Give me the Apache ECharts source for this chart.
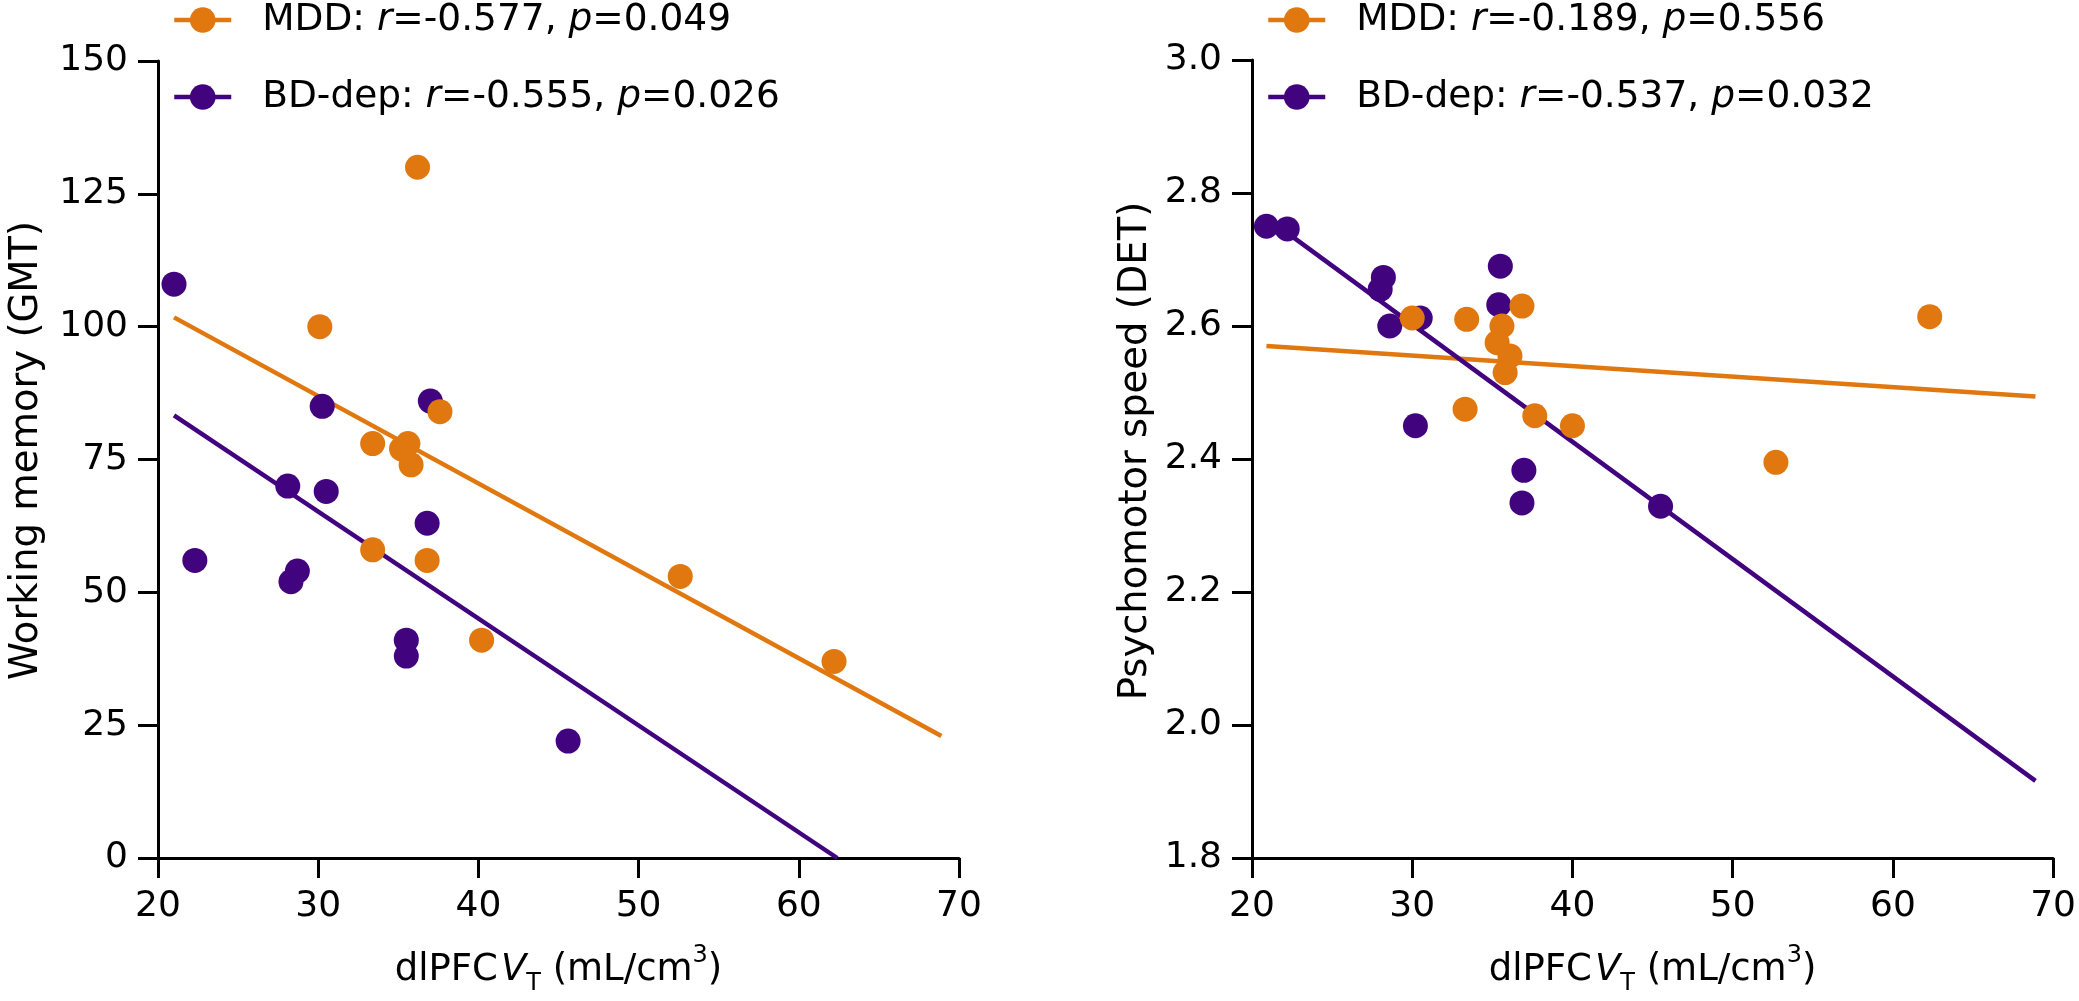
<!DOCTYPE html>
<html><head><meta charset="utf-8">
<script src="https://cdn.jsdelivr.net/npm/echarts@6/dist/echarts.min.js"></script>
<style>html,body{margin:0;padding:0;background:#fff}#c{width:2079px;height:1001px}</style>
</head><body><div id="c"></div>
<script>
const ORANGE = '#E0770F', PURPLE = '#42037F';
const FONT = '"DejaVu Sans", "Liberation Sans", Arial, sans-serif';

// x ticks (shared)
const xTicks = [20, 30, 40, 50, 60, 70];
const wmTicks = [0, 25, 50, 75, 100, 125, 150];
const psTicks = [1.8, 2.0, 2.2, 2.4, 2.6, 2.8, 3.0];

// Working memory (GMT)
const wmMddX = [36.2, 30.1, 37.6, 33.4, 35.2, 35.6, 35.8, 33.4, 36.8, 52.6, 40.2, 62.2];
const wmMddY = [130, 100, 84, 78, 77, 78, 74, 58, 56, 53, 41, 37];
const wmBdX = [21.0, 30.25, 37.0, 28.1, 30.5, 36.8, 22.3, 28.7, 28.3, 35.5, 35.5, 45.6];
const wmBdY = [108, 85, 86, 70, 69, 63, 56, 54, 52, 41, 38, 22];
const wmMddFitX = [21.0, 68.9], wmMddFitY = [101.75, 22.95];
const wmBdFitX = [21.0, 62.4], wmBdFitY = [83.3, 0];

// Psychomotor speed (DET)
const psMddX = [30.0, 33.4, 36.85, 35.6, 35.3, 36.1, 35.8, 33.3, 37.65, 40.0, 62.3, 52.7];
const psMddY = [2.612, 2.61, 2.63, 2.60, 2.575, 2.555, 2.53, 2.475, 2.465, 2.45, 2.614, 2.395];
const psBdX = [20.9, 22.2, 28.2, 28.0, 28.6, 30.5, 35.5, 35.4, 30.2, 36.97, 36.85, 45.5];
const psBdY = [2.75, 2.746, 2.673, 2.655, 2.60, 2.612, 2.69, 2.632, 2.45, 2.383, 2.334, 2.329];
const psMddFitX = [20.9, 68.9], psMddFitY = [2.57, 2.494];
const psBdFitX = [22.2, 68.9], psBdFitY = [2.74, 1.916];

const legendLabels = {
  wmMdd: ['MDD: ', '-0.577', '0.049'],
  wmBd: ['BD-dep: ', '-0.555', '0.026'],
  psMdd: ['MDD: ', '-0.189', '0.556'],
  psBd: ['BD-dep: ', '-0.537', '0.032']
};

const zip = (xs, ys) => xs.map((x, i) => [x, ys[i]]);

const chart = echarts.init(document.getElementById('c'), null, {renderer: 'canvas'});

const axisCommon = {
  axisLine: {show: true, onZero: false, lineStyle: {color: '#000', width: 3}},
  axisTick: {show: true, length: 20, lineStyle: {color: '#000', width: 3}},
  splitLine: {show: false},
};
const txt = (size) => ({fontSize: size, fontFamily: FONT, color: '#000'});

function xAxis(idx) {
  return Object.assign({}, axisCommon, {
    type: 'value', gridIndex: idx, min: 20, max: 70, interval: 10,
    axisLabel: Object.assign(txt(36), {margin: 31, formatter: v => xTicks.includes(v) ? String(v) : ''}),
    name: '{a|dlPFC}{v|V}{s|T}{a| (mL/cm}{p|3}{a|)}',
    nameLocation: 'middle', nameGap: 86,
    nameTextStyle: {
      rich: {
        a: Object.assign(txt(37), {lineHeight: 52}),
        v: Object.assign(txt(37), {fontStyle: 'italic', lineHeight: 52, padding: [0, 0, 0, 3]}),
        s: Object.assign(txt(24), {verticalAlign: 'bottom', lineHeight: 26}),
        p: Object.assign(txt(24), {verticalAlign: 'top', lineHeight: 30})
      }
    }
  });
}

const legendRich = {
  n: Object.assign(txt(37.5), {lineHeight: 44}),
  i: Object.assign(txt(37.5), {fontStyle: 'italic', lineHeight: 44})
};
function legend(left, names) {
  return {
    left: left, top: -2, padding: 0, orient: 'vertical', itemWidth: 57, itemHeight: 32, itemGap: 33,
    data: names, selectedMode: false,
    lineStyle: {width: 4.5},
    formatter: n => {
      const l = legendLabels[n];
      return '{n|' + l[0] + '}{i|r}{n|=' + l[1] + ', }{i|p}{n|=' + l[2] + '}';
    },
    textStyle: Object.assign(txt(37.5), {rich: legendRich, lineHeight: 44, padding: [0, 0, 0, 26]})
  };
}

function lineSeries(name, xi, xs, ys, color) {
  return {name: name, type: 'line', xAxisIndex: xi, yAxisIndex: xi, data: zip(xs, ys),
    symbol: 'circle', showSymbol: false, symbolSize: 25, z: 2, silent: true,
    lineStyle: {color: color, width: 4.5}, itemStyle: {color: color}};
}
function scatterSeries(name, xi, xs, ys, color, z) {
  return {name: name, type: 'scatter', xAxisIndex: xi, yAxisIndex: xi, data: zip(xs, ys),
    symbol: 'circle', symbolSize: 25, z: z, itemStyle: {color: color, opacity: 1}};
}

chart.setOption({
  animation: false,
  backgroundColor: '#fff',
  grid: [
    {left: 158, top: 61, width: 801, height: 801},
    {left: 1252, top: 60, width: 805, height: 802}
  ],
  legend: [legend(172, ['wmMdd', 'wmBd']), legend(1266, ['psMdd', 'psBd'])],
  xAxis: [xAxis(0), xAxis(1)],
  yAxis: [
    Object.assign({}, axisCommon, {
      type: 'value', gridIndex: 0, min: 0, max: 150, interval: 25,
      axisLabel: Object.assign(txt(36), {margin: 30, formatter: v => wmTicks.includes(v) ? String(v) : ''}),
      name: 'Working memory (GMT)', nameLocation: 'middle', nameGap: 112,
      nameTextStyle: Object.assign(txt(38.5), {padding: [0, 0, 0, 18]})
    }),
    Object.assign({}, axisCommon, {
      type: 'value', gridIndex: 1, min: 1.8, max: 3.0, interval: 0.2,
      axisLabel: Object.assign(txt(36), {margin: 30, formatter: v => v.toFixed(1)}),
      name: 'Psychomotor speed (DET)', nameLocation: 'middle', nameGap: 97,
      nameTextStyle: Object.assign(txt(38.5), {padding: [0, 0, 0, 16]})
    })
  ],
  series: [
    lineSeries('wmMdd', 0, wmMddFitX, wmMddFitY, ORANGE),
    lineSeries('wmBd', 0, wmBdFitX, wmBdFitY, PURPLE),
    lineSeries('psMdd', 1, psMddFitX, psMddFitY, ORANGE),
    lineSeries('psBd', 1, psBdFitX, psBdFitY, PURPLE),
    scatterSeries('wmBd', 0, wmBdX, wmBdY, PURPLE, 3),
    scatterSeries('wmMdd', 0, wmMddX, wmMddY, ORANGE, 4),
    scatterSeries('psBd', 1, psBdX, psBdY, PURPLE, 3),
    scatterSeries('psMdd', 1, psMddX, psMddY, ORANGE, 4)
  ]
});
</script>
</body></html>
